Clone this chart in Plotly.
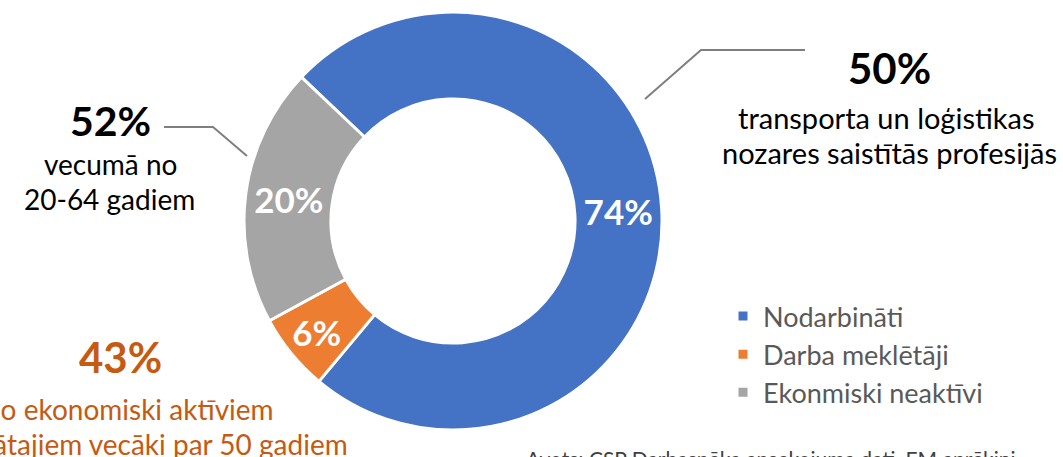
import plotly.graph_objects as go

W, H = 1063, 457

categories = ["Nodarbināti", "Darba meklētāji", "Ekonmiski neaktīvi"]
shares = [74, 6, 20]
colors = ["#4472C4", "#ED7D31", "#A5A5A5"]

callout_right = ["50%", "transporta un loģistikas", "nozares saistītās profesijās"]
callout_left = ["52%", "vecumā no", "20-64 gadiem"]
callout_bottom = ["43%", "no ekonomiski aktīviem", "nodarbinātajiem vecāki par 50 gadiem"]
source_text = "Avots: CSP Darbaspēka apsekojuma dati, EM aprēķini"

FONT = "Lato"


def px(x):
    return x / W


def py(y):
    return 1 - y / H


fig = go.Figure()
fig.add_trace(go.Pie(
    labels=categories,
    values=shares,
    marker=dict(colors=colors, line=dict(color="white", width=3)),
    hole=0.584,
    sort=False,
    direction="clockwise",
    rotation=-46.5,
    textinfo="percent",
    texttemplate="%{percent:.0%}",
    textposition="inside",
    insidetextorientation="horizontal",
    textfont=dict(family=FONT, size=35, color="white", weight="bold"),
    domain=dict(x=[px(244), px(662)], y=[py(430), py(12)]),
    hoverinfo="label+percent",
))

annotations = []


def add_text(text, x, y, size, color="#000000", bold=False, xanchor="center"):
    annotations.append(dict(
        text=f"<b>{text}</b>" if bold else text,
        x=px(x), y=py(y), xref="paper", yref="paper",
        xanchor=xanchor, yanchor="middle", showarrow=False,
        font=dict(family=FONT, size=size, color=color),
    ))


# right callout
add_text(callout_right[0], 889, 68, 42, bold=True)
add_text(callout_right[1], 886, 117, 29)
add_text(callout_right[2], 889, 152, 29)
# left callout
add_text(callout_left[0], 110, 120, 41, bold=True)
add_text(callout_left[1], 110, 164, 28)
add_text(callout_left[2], 109, 199, 28)
# bottom callout (orange)
orange = "#C55A11"
add_text(callout_bottom[0], 120, 357, 42, color=orange, bold=True)
add_text(callout_bottom[1], 276, 409, 28, color=orange, xanchor="right")
add_text(callout_bottom[2], 350, 444, 28, color=orange, xanchor="right")
# source
annotations.append(dict(
    text=source_text, x=px(524), y=py(458), xref="paper", yref="paper",
    xanchor="left", yanchor="middle", showarrow=False,
    font=dict(family=FONT, size=21, color="#404040"),
))

line_style = dict(color="#7F7F7F", width=2)
shapes = [
    dict(type="path", xref="paper", yref="paper",
         path=f"M {px(645)} {py(99)} L {px(701)} {py(50)} L {px(805)} {py(50)}",
         line=line_style),
    dict(type="path", xref="paper", yref="paper",
         path=f"M {px(164)} {py(127)} L {px(213)} {py(127)} L {px(247)} {py(156)}",
         line=line_style),
]

fig.update_layout(
    width=W, height=H,
    margin=dict(l=0, r=0, t=0, b=0),
    paper_bgcolor="white",
    plot_bgcolor="white",
    annotations=annotations,
    shapes=shapes,
    showlegend=True,
    legend=dict(
        x=px(723), y=py(292), xanchor="left", yanchor="top",
        font=dict(family=FONT, size=27, color="#595959"),
        bgcolor="rgba(0,0,0,0)",
        traceorder="normal",
    ),
)

fig.write_html(
    "out.html",
    config={"displayModeBar": False},
    post_script="document.body.style.margin='0';document.body.style.overflow='hidden';",
)
